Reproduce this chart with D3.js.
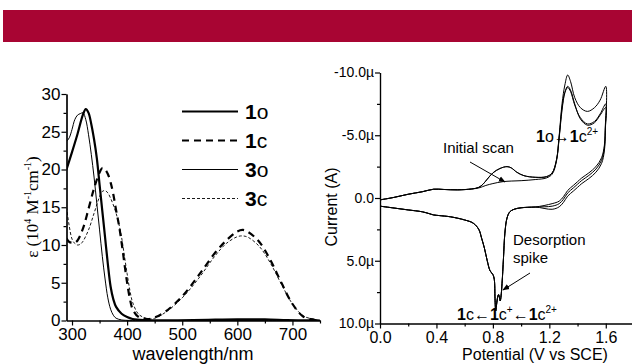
<!DOCTYPE html>
<html><head><meta charset="utf-8">
<script src="https://cdn.jsdelivr.net/npm/d3@7/dist/d3.min.js"></script>
<style>
body{margin:0;background:#fff;}
svg{display:block;font-family:"Liberation Sans",Arial,sans-serif;}
</style></head>
<body><svg id="c" width="632" height="364"></svg>
<script>
// ---------- DATA ----------
// Left: absorption spectra (wavelength nm, epsilon 10^4 M^-1 cm^-1)
const wl1o = [290,300,310,320,325,330,335,340,345,350,355,360,365,370,375,380,390,400,410,430,460,520,560,600,650,690,720,750];
const eps1o = [20,22.3,24.7,27.3,28,27.5,26,24,21.5,18,14.5,11,7.5,4.5,2.8,1.8,0.9,0.45,0.2,0.05,0.02,0.05,0.12,0.15,0.15,0.06,0.02,0];
const wl3o = [290,295,300,305,310,315,320,325,330,335,340,345,350,355,360,365,370,375,380,390,400,450,550,650,750];
const eps3o = [23.7,24.2,25.3,26.6,27.2,27.4,27.5,26.6,24.6,22,19,15.5,12,8.5,5.5,3,1.5,0.7,0.3,0.08,0.02,0,0,0,0];
const wl1c = [290,295,300,305,310,320,330,340,350,355,360,365,370,375,380,385,390,395,400,405,410,420,430,440,450,470,500,530,560,580,600,610,620,640,660,680,700,720,740,750];
const eps1c = [10.9,10.4,10.3,10.3,10.6,12.2,14.8,17.5,19.6,20.2,20,19.4,18.3,16.7,14.6,12.7,10.3,7.6,5.0,2.9,1.5,0.5,0.25,0.2,0.4,1.2,3.2,6,9,10.6,11.8,12,11.7,10.4,8,5,2.2,0.5,0.1,0];
const wl3c = [290,295,300,305,310,315,320,330,340,350,355,360,365,370,375,380,385,390,395,400,405,410,420,430,440,450,470,500,530,560,580,600,610,620,640,660,680,700,720,740,750];
const eps3c = [15,12.5,10.8,10.2,10,10.1,10.5,12,14.2,16.4,17.1,17.2,16.9,16.2,15.3,14.2,12.8,11,8.6,6.2,4,2.4,0.9,0.4,0.2,0.3,1.1,3,5.6,8.6,10.2,11.1,11.2,11,9.8,7.6,4.8,2.2,0.6,0.15,0];
const specXTicks = [300,400,500,600,700];
const specYTicks = [0,5,10,15,20,25,30];
const legendKeys = [["1","o"],["1","c"],["3","o"],["3","c"]];

// Right: cyclic voltammogram (V vs SCE, current in microamps; negative = anodic, drawn upwards)
const cvV1 = [0,0.1,0.2,0.3,0.38,0.45,0.55,0.65,0.7,0.75,0.8,0.87,0.93,1.0,1.1,1.18,1.22,1.25,1.27,1.29,1.31,1.33,1.35,1.38,1.42,1.47,1.52,1.56,1.6];
const cvI1 = [0.15,-0.05,-0.3,-0.5,-0.7,-0.68,-0.65,-0.72,-0.8,-1.0,-1.15,-1.3,-1.35,-1.38,-1.47,-1.6,-1.9,-2.9,-4.8,-7.0,-8.4,-8.9,-8.6,-7.5,-6.3,-5.8,-6.0,-6.6,-7.2];
const cvV2 = [0,0.1,0.2,0.3,0.38,0.45,0.55,0.65,0.7,0.73,0.76,0.8,0.85,0.9,0.93,0.97,1.02,1.1,1.18,1.22,1.25,1.27,1.29,1.31,1.33,1.35,1.38,1.42,1.47,1.52,1.56,1.6];
const cvI2 = [0.15,-0.05,-0.3,-0.5,-0.7,-0.68,-0.65,-0.72,-0.85,-1.1,-1.5,-2.0,-2.35,-2.5,-2.4,-2.05,-1.78,-1.65,-1.7,-2.0,-3.0,-5.0,-7.5,-9.0,-9.8,-9.3,-8.0,-7.2,-6.9,-7.2,-7.8,-8.9];
const cvI3 = [0.15,-0.05,-0.3,-0.5,-0.7,-0.68,-0.65,-0.72,-0.85,-1.1,-1.5,-2.0,-2.35,-2.5,-2.4,-2.05,-1.78,-1.65,-1.7,-2.0,-3.0,-4.9,-7.2,-8.4,-8.8,-8.5,-7.4,-6.4,-5.9,-6.1,-6.7,-7.5];
const cvVRet = [1.597,1.59,1.57,1.53,1.48,1.43,1.4,1.37,1.33,1.3,1.27,1.22,1.1,1.0,0.95,0.92,0.9,0.885,0.875,0.865,0.858,0.852,0.846,0.84,0.832,0.825,0.82,0.815,0.81,0.8,0.78,0.76,0.74,0.72,0.7,0.66,0.6,0.5,0.42,0.38,0.35,0.3,0.2,0.1,0];
const cvIRet = [-5.6,-4.0,-3.0,-2.3,-1.8,-1.4,-1.1,-0.8,-0.4,0.1,0.45,0.65,0.72,0.78,0.9,1.1,1.6,2.8,4.8,6.8,7.8,8.2,7.9,7.7,8.0,8.6,9.0,8.0,6.5,6.1,5.8,5.0,4.0,3.2,2.5,2.0,1.75,1.5,1.4,1.35,1.25,1.1,0.95,0.8,0.65];
const cvRetOffsets = [0,0.25,-0.2];
const cvXTicks = [0,0.4,0.8,1.2,1.6];
const cvYTicks = [-10,-5,0,5,10];

// ---------- DRAW ----------
const svg = d3.select("#c");
svg.append("rect").attr("x",3).attr("y",10).attr("width",629).attr("height",32).attr("fill","#a80533");

// ----- Left panel -----
const L = svg.append("g");
const xs = d3.scaleLinear().domain([290,750]).range([66.5,320]);
const ys = d3.scaleLinear().domain([0,30]).range([320.5,94]);
L.append("g").attr("transform","translate(0,320.5)")
  .call(d3.axisBottom(xs).tickValues(specXTicks).tickSize(5).tickSizeOuter(0).tickPadding(2));
L.append("g").attr("transform","translate(0,320.5)")
  .call(d3.axisBottom(xs).tickValues(d3.range(350,751,100)).tickSize(3).tickFormat("").tickSizeOuter(0));
L.append("g").attr("transform","translate(66.5,0)")
  .call(d3.axisLeft(ys).tickValues(specYTicks).tickSize(5).tickSizeOuter(0).tickPadding(1));
L.append("g").attr("transform","translate(66.5,0)")
  .call(d3.axisLeft(ys).tickValues(d3.range(2.5,30,5)).tickSize(3).tickFormat("").tickSizeOuter(0));
L.selectAll(".tick text").attr("font-size",17).attr("fill","#000").attr("font-family","Liberation Sans, Arial, sans-serif");
L.selectAll(".domain, .tick line").attr("stroke","#000").attr("stroke-width",1.2);

L.append("defs").append("clipPath").attr("id","clipL").append("rect")
  .attr("x",67).attr("y",90).attr("width",255).attr("height",231);
const lineL = d3.line().x(d=>xs(d[0])).y(d=>ys(d[1])).curve(d3.curveCatmullRom.alpha(0.5));
const spec = [
  {w:wl1o,e:eps1o,sw:2.2,da:null},
  {w:wl1c,e:eps1c,sw:2.2,da:"7,5"},
  {w:wl3o,e:eps3o,sw:1,da:null},
  {w:wl3c,e:eps3c,sw:0.9,da:"3,2"}
];
const gs = L.append("g").attr("clip-path","url(#clipL)");
spec.forEach(s=>{
  gs.append("path").datum(d3.zip(s.w,s.e)).attr("d",lineL).attr("fill","none")
    .attr("stroke","#000").attr("stroke-width",s.sw).attr("stroke-dasharray",s.da);
});
// legend
const legY = [111.5,140.5,169.5,198.5];
legendKeys.forEach((k,i)=>{
  const s = spec[i];
  L.append("line").attr("x1",182).attr("x2",238).attr("y1",legY[i]).attr("y2",legY[i])
   .attr("stroke","#000").attr("stroke-width",s.sw).attr("stroke-dasharray",s.da);
  const t = L.append("text").attr("x",245).attr("y",legY[i]+7.5).attr("font-size",21);
  t.append("tspan").attr("font-weight","bold").text(k[0]);
  t.append("tspan").text(k[1]);
});
// axis titles
L.append("text").attr("x",193).attr("y",360).attr("text-anchor","middle").attr("font-size",18).text("wavelength/nm");
const yt = L.append("text").attr("transform","translate(38,207) rotate(-90)").attr("text-anchor","middle")
  .attr("font-family","Liberation Serif, Times New Roman, serif").attr("font-size",17);
yt.append("tspan").text("ε (10");
yt.append("tspan").attr("font-size",10).attr("dy",-7).text("4");
yt.append("tspan").attr("dy",7).text(" M");
yt.append("tspan").attr("font-size",10).attr("dy",-7).text("-1");
yt.append("tspan").attr("dy",7).text("cm");
yt.append("tspan").attr("font-size",10).attr("dy",-7).text("-1");
yt.append("tspan").attr("dy",7).text(")");

// ----- Right panel -----
const R = svg.append("g");
const xv = d3.scaleLinear().domain([0,1.8]).range([380,634]);
const yi = d3.scaleLinear().domain([-10,10]).range([72.5,323.5]);
const gxR = R.append("g").attr("transform","translate(0,323.5)")
  .call(d3.axisBottom(xv).tickValues(cvXTicks).tickSize(5).tickSizeOuter(0).tickPadding(3).tickFormat(d3.format(".1f")));
R.append("g").attr("transform","translate(0,323.5)")
  .call(d3.axisBottom(xv).tickValues([0.2,0.6,1.0,1.4,1.8]).tickSize(3).tickFormat("").tickSizeOuter(0));
const gyR = R.append("g").attr("transform","translate(380,0)")
  .call(d3.axisLeft(yi).tickValues(cvYTicks).tickSize(5).tickSizeOuter(0).tickPadding(1)
    .tickFormat(d=> d===0 ? "0.0" : (d<0?"-":"")+Math.abs(d).toFixed(1)+"µ"));
R.append("g").attr("transform","translate(380,0)")
  .call(d3.axisLeft(yi).tickValues([-7.5,-2.5,2.5,7.5]).tickSize(3).tickFormat("").tickSizeOuter(0));
R.selectAll(".tick text").attr("fill","#000").attr("font-family","Liberation Sans, Arial, sans-serif");
gxR.selectAll(".tick text").attr("font-size",16);
gyR.selectAll(".tick text").attr("font-size",14);
R.selectAll(".domain, .tick line").attr("stroke","#000").attr("stroke-width",1.2);

const lineR = d3.line().x(d=>xv(d[0])).y(d=>yi(d[1])).curve(d3.curveCatmullRom.alpha(0.5));
[cvI1,cvI2,cvI3].forEach((fwd,k)=>{
  const fv = k===0 ? cvV1 : cvV2;
  const pts = d3.zip(fv,fwd).concat(d3.zip(cvVRet, cvIRet.map((v,i)=> i<12 ? v+cvRetOffsets[k] : v)));
  pts.splice(fv.length, 0); 
  R.append("path").datum(pts).attr("d",lineR).attr("fill","none").attr("stroke","#000").attr("stroke-width",1);
});

// annotations
const defs = svg.append("defs");
defs.append("marker").attr("id","ah").attr("viewBox","0 0 10 10").attr("refX",9).attr("refY",5)
  .attr("markerWidth",7).attr("markerHeight",7).attr("orient","auto")
  .append("path").attr("d","M0,1 L10,5 L0,9 Z").attr("fill","#000");
R.append("text").attr("x",443).attr("y",153).attr("font-size",15).text("Initial scan");
R.append("line").attr("x1",470).attr("y1",162).attr("x2",505).attr("y2",182).attr("stroke","#000").attr("marker-end","url(#ah)");
R.append("text").attr("x",513).attr("y",245).attr("font-size",15).text("Desorption");
R.append("text").attr("x",513).attr("y",263).attr("font-size",15).text("spike");
R.append("line").attr("x1",530).attr("y1",273).attr("x2",503).attr("y2",290).attr("stroke","#000").attr("marker-end","url(#ah)");

function chem(g,x,y,parts){
  const t = g.append("text").attr("x",x).attr("y",y).attr("font-size",16);
  parts.forEach(p=>{
    const s = t.append("tspan").text(p.t);
    if(p.b) s.attr("font-weight","bold");
    if(p.sup){ s.attr("font-size",10).attr("dy",-7); }
    if(p.down){ s.attr("dy",7); }
  });
}
chem(R,536,142,[{t:"1",b:1},{t:"o→"},{t:"1",b:1},{t:"c"},{t:"2+",sup:1}]);
chem(R,457,320,[{t:"1",b:1},{t:"c←"},{t:"1",b:1},{t:"c"},{t:"+",sup:1},{t:"←",down:1},{t:"1",b:1},{t:"c"},{t:"2+",sup:1}]);

R.append("text").attr("x",535).attr("y",360).attr("text-anchor","middle").attr("font-size",16).text("Potential (V vs SCE)");
R.append("text").attr("transform","translate(337,207) rotate(-90)").attr("text-anchor","middle").attr("font-size",16).text("Current (A)");
</script></body></html>
